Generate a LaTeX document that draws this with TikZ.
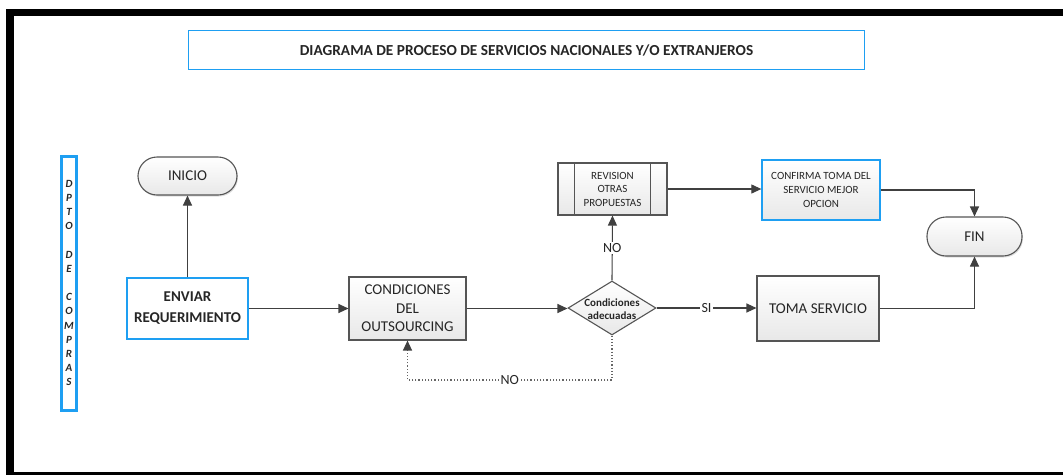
\documentclass[tikz,border=0pt]{standalone}
\usepackage{fontspec}
\setmainfont{Carlito}
\usetikzlibrary{shapes.geometric,arrows.meta,calc,shadows}
\definecolor{bl}{HTML}{1E9FF2}
\definecolor{ln}{HTML}{404040}
\definecolor{bd}{HTML}{555555}
\begin{document}
\begin{tikzpicture}[x=1pt,y=-1pt,
  every node/.style={inner sep=0pt, align=center, text=black!85},
  gfill/.style={top color=white, bottom color=black!9},
  proc/.style={draw=bd, line width=1.1pt, gfill, font=\fontsize{15}{18.5}\selectfont},
  bproc/.style={draw=bl, line width=1.3pt},
  term/.style={draw=bd, line width=1.1pt, gfill, rounded corners=19pt,
     drop shadow={shadow xshift=1pt, shadow yshift=-1.5pt, opacity=0.25},
     font=\fontsize{15}{18}\selectfont},
  arr/.style={draw=ln, line width=1.1pt, -{Triangle[length=10pt,width=9pt]}},
  dotarr/.style={draw=black!60, line width=1.2pt, dotted, -{Triangle[length=10pt,width=9pt,color=ln]}},
  lbl/.style={fill=white, inner sep=1.5pt, font=\fontsize{14}{16}\selectfont}]
\useasboundingbox (0,0) rectangle (1063,475);
% frame
\fill[black] (6,9) rectangle (1063,16);
\fill[black] (6,9) rectangle (14,475);
\fill[black] (6,472) rectangle (1063,474.5);
% title
\node[draw=bl, line width=1.5pt, minimum width=676, minimum height=39,
  font=\bfseries\fontsize{15.3}{17}\selectfont] (title) at (526.5,50) {DIAGRAMA DE PROCESO DE SERVICIOS NACIONALES Y/O EXTRANJEROS};
% side lane
\node[draw=bl, line width=3pt, minimum width=15, minimum height=254] (side) at (69,283.5) {};
\node[font=\bfseries\itshape\fontsize{11}{14.2}\selectfont] (sidetxt) at (69,283) {D\\P\\T\\O\\~\\D\\E\\~\\C\\O\\M\\P\\R\\A\\S};
% nodes
\node[term, minimum width=99, minimum height=38] (ini) at (187.5,176) {INICIO};
\node[bproc, fill=white, minimum width=121, minimum height=61,
  font=\bfseries\fontsize{15}{21}\selectfont] (env) at (187.5,308.5) {ENVIAR\\REQUERIMIENTO};
\node[proc, minimum width=117, minimum height=63] (cond) at (407.5,308.5) {CONDICIONES\\DEL\\OUTSOURCING};
\node[shape=diamond, draw=bd, line width=1.1pt, gfill, minimum width=88, minimum height=54] (dia) at (612,308) {};
\node[font=\bfseries\fontsize{11}{13.5}\selectfont] (diatxt) at (612,309) {Condiciones\\adecuadas};
\node[proc, minimum width=109, minimum height=52, font=\fontsize{11}{13.5}\selectfont] (rev) at (612.5,189) {REVISION\\OTRAS\\PROPUESTAS};
\draw[draw=bd, line width=1.1pt] ($(rev.north west)+(17,0)$) -- ($(rev.south west)+(17,0)$);
\draw[draw=bd, line width=1.1pt] ($(rev.north east)+(-17,0)$) -- ($(rev.south east)+(-17,0)$);
\node[bproc, gfill, minimum width=118, minimum height=60, font=\fontsize{11}{14}\selectfont] (conf) at (821,190) {CONFIRMA TOMA DEL\\SERVICIO MEJOR\\OPCION};
\node[term, minimum width=95, minimum height=39] (fin) at (974.5,236.5) {FIN};
\node[proc, minimum width=122, minimum height=65] (toma) at (818,308.5) {TOMA SERVICIO};
% connectors
\draw[arr] (env.north) -- (ini.south);
\draw[arr] (env.east) -- (env.east -| cond.west);
\draw[arr] (cond.east) -- (cond.east -| dia.west);
\draw[arr] (dia.north) -- node[lbl]{NO} (rev.south);
\draw[arr] (rev.east) -- (rev.east -| conf.west);
\draw[arr] (conf.east) -| (fin.north);
\draw[arr] (dia.east) -- node[lbl]{SI} (dia.east -| toma.west);
\draw[arr] (toma.east) -| (fin.south);
\coordinate (lp) at (612,380);
\draw[dotarr] (dia.south) -- (dia.south |- lp) -- node[lbl]{NO} (cond.south |- lp) -- (cond.south);
\end{tikzpicture}
\end{document}
